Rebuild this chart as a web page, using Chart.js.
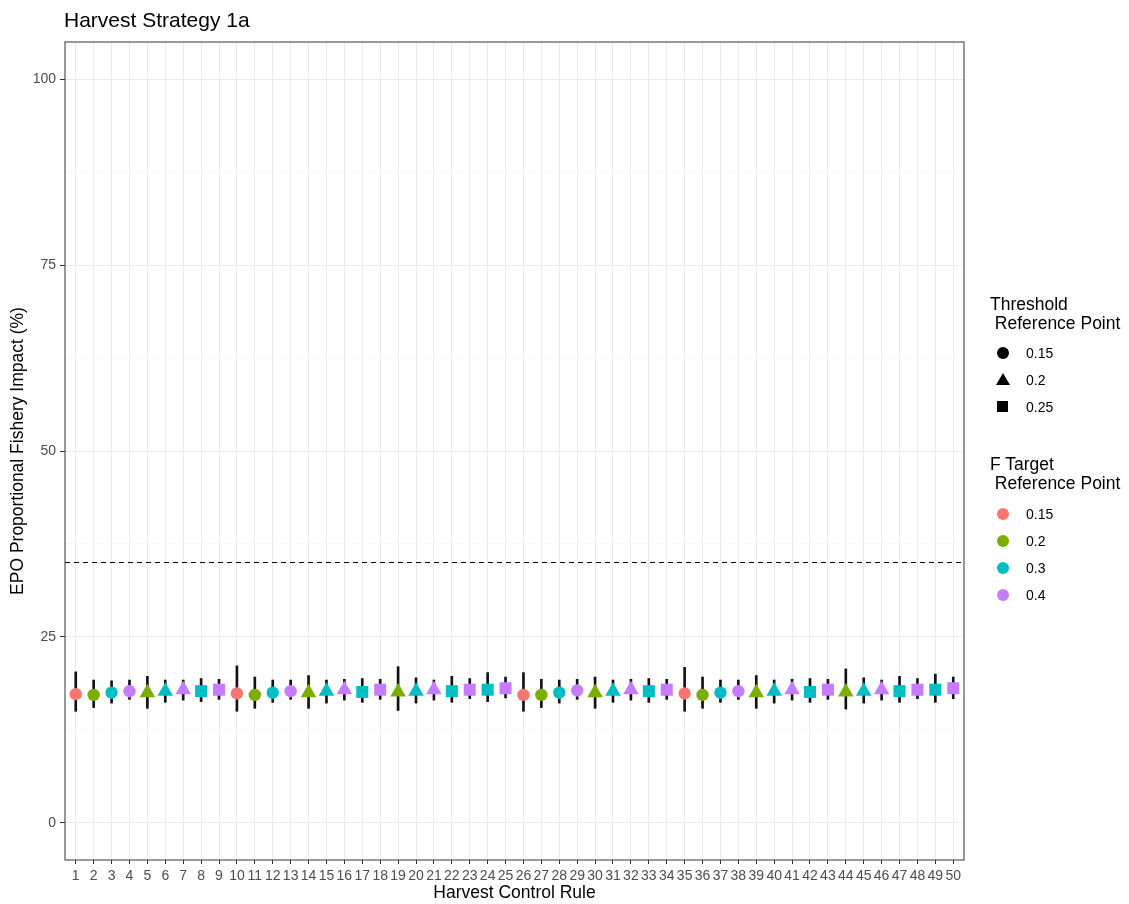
<!DOCTYPE html>
<html>
<head>
<meta charset="utf-8">
<title>Harvest Strategy 1a</title>
<script src="https://cdn.jsdelivr.net/npm/chart.js@4"></script>
<style>
  html, body { margin: 0; padding: 0; background: #fff; }
  #wrap { position: relative; width: 1129px; height: 904px; font-family: "Liberation Sans", Arial, sans-serif; }
  #plot { position: absolute; left: 0; top: 0; }
  .txt { position: absolute; white-space: pre; color: #000; }
  .ttl { font-size: 21px; line-height: 24px; }
  .lt { font-size: 17.5px; line-height: 19px; }
  .ll { font-size: 14px; line-height: 16px; }
  .key { position: absolute; }
  .k-circle { width: 12px; height: 12px; border-radius: 50%; }
  .k-square { width: 11px; height: 11px; background: #000; }
  .k-tri { width: 0; height: 0; border-left: 7px solid transparent; border-right: 7px solid transparent; border-bottom: 12px solid #000; }
</style>
</head>
<body>
<div id="wrap">
  <canvas id="plot" width="1129" height="904"></canvas>
  <div class="txt ttl" style="left:64px;top:8px;">Harvest Strategy 1a</div>
  <div id="legend"></div>
</div>
<script>
(function () {
  "use strict";

  /* ── Data ── */
  const hcr = [1, 2, 3, 4, 5, 6, 7, 8, 9, 10, 11, 12, 13, 14, 15, 16, 17, 18, 19, 20, 21, 22, 23, 24, 25,
               26, 27, 28, 29, 30, 31, 32, 33, 34, 35, 36, 37, 38, 39, 40, 41, 42, 43, 44, 45, 46, 47, 48, 49, 50];
  const threshold = [0.15, 0.15, 0.15, 0.15, 0.2, 0.2, 0.2, 0.25, 0.25,
                     0.15, 0.15, 0.15, 0.15, 0.2, 0.2, 0.2, 0.25, 0.25,
                     0.2, 0.2, 0.2, 0.25, 0.25, 0.25, 0.25,
                     0.15, 0.15, 0.15, 0.15, 0.2, 0.2, 0.2, 0.25, 0.25,
                     0.15, 0.15, 0.15, 0.15, 0.2, 0.2, 0.2, 0.25, 0.25,
                     0.2, 0.2, 0.2, 0.25, 0.25, 0.25, 0.25];
  const fTarget = [0.15, 0.2, 0.3, 0.4, 0.2, 0.3, 0.4, 0.3, 0.4,
                   0.15, 0.2, 0.3, 0.4, 0.2, 0.3, 0.4, 0.3, 0.4,
                   0.2, 0.3, 0.4, 0.3, 0.4, 0.3, 0.4,
                   0.15, 0.2, 0.3, 0.4, 0.2, 0.3, 0.4, 0.3, 0.4,
                   0.15, 0.2, 0.3, 0.4, 0.2, 0.3, 0.4, 0.3, 0.4,
                   0.2, 0.3, 0.4, 0.3, 0.4, 0.3, 0.4];
  const impact = [17.3, 17.2, 17.5, 17.7, 17.5, 17.7, 17.9, 17.7, 17.9,
                  17.4, 17.2, 17.5, 17.7, 17.5, 17.7, 17.9, 17.6, 17.9,
                  17.6, 17.7, 17.9, 17.7, 17.9, 17.9, 18.1,
                  17.2, 17.2, 17.5, 17.8, 17.5, 17.7, 17.9, 17.7, 17.9,
                  17.4, 17.2, 17.5, 17.7, 17.5, 17.7, 17.9, 17.6, 17.9,
                  17.6, 17.7, 17.9, 17.7, 17.9, 17.9, 18.1];
  const lower = [15.0, 15.5, 16.1, 16.6, 15.4, 16.2, 16.5, 16.3, 16.6,
                 15.0, 15.4, 16.2, 16.6, 15.4, 16.1, 16.5, 16.2, 16.6,
                 15.1, 16.1, 16.5, 16.2, 16.7, 16.3, 16.8,
                 15.0, 15.5, 16.1, 16.6, 15.4, 16.2, 16.5, 16.2, 16.6,
                 15.0, 15.4, 16.2, 16.6, 15.4, 16.1, 16.5, 16.2, 16.6,
                 15.3, 16.1, 16.5, 16.2, 16.7, 16.2, 16.7];
  const upper = [20.3, 19.2, 19.1, 19.2, 19.7, 19.2, 19.2, 19.4, 19.3,
                 21.1, 19.6, 19.2, 19.2, 19.8, 19.2, 19.3, 19.4, 19.3,
                 21.0, 19.5, 19.2, 19.7, 19.4, 20.2, 19.6,
                 20.2, 19.3, 19.2, 19.3, 19.6, 19.2, 19.3, 19.4, 19.3,
                 20.9, 19.6, 19.2, 19.2, 19.8, 19.2, 19.3, 19.4, 19.3,
                 20.7, 19.5, 19.2, 19.7, 19.4, 20.0, 19.6];
  const limitRef = 35;
  const yTicks = [0, 25, 50, 75, 100];
  const yMinor = [12.5, 37.5, 62.5, 87.5];
  const thresholdLevels = [0.15, 0.2, 0.25];
  const fLevels = [0.15, 0.2, 0.3, 0.4];
  const xMin = 0.4, xMax = 50.6, yMin = -5, yMax = 105;

  /* ── Styles ── */
  const FONT = '"Liberation Sans", Arial, sans-serif';
  const fColors = ['#F8766D', '#7CAE00', '#00BFC4', '#C77CFF'];
  const shapes = ['circle', 'triangle', 'rect'];
  const radiusFor = { circle: 6.2, triangle: 9, rect: 8.5 };
  const shapeOf = t => shapes[thresholdLevels.indexOf(t)];

  /* ── Datasets ── */
  const pointSets = fLevels.map((f, k) => {
    const pts = [];
    hcr.forEach((h, i) => {
      if (fTarget[i] === f) pts.push({ x: h, y: impact[i], shape: shapeOf(threshold[i]) });
    });
    return {
      type: 'scatter', label: 'F ' + f, data: pts, order: 0,
      backgroundColor: fColors[k], borderWidth: 0,
      pointStyle: c => (c.raw ? c.raw.shape : 'circle'),
      pointRadius: c => (c.raw ? radiusFor[c.raw.shape] : 6),
      pointHoverRadius: c => (c.raw ? radiusFor[c.raw.shape] : 6)
    };
  });

  const errorBars = {
    type: 'bar', label: 'range', order: 1, grouped: false,
    data: hcr.map((h, i) => ({ x: h, y: [lower[i], upper[i]] })),
    backgroundColor: '#111', borderWidth: 0, barThickness: 2
  };

  const refLine = {
    type: 'line', label: 'limit', order: 2,
    data: [{ x: xMin, y: limitRef }, { x: xMax, y: limitRef }],
    borderColor: '#000', borderWidth: 1, borderDash: [5, 4], pointRadius: 0, fill: false
  };

  /* ── Panel border ── */
  const panelBorder = {
    id: 'panelBorder',
    afterDraw(chart) {
      const { ctx, chartArea: a } = chart;
      ctx.save();
      ctx.strokeStyle = '#333';
      ctx.lineWidth = 1;
      ctx.strokeRect(a.left, a.top, a.right - a.left, a.bottom - a.top);
      ctx.restore();
    }
  };

  const isMajor = v => yTicks.includes(v);

  new Chart(document.getElementById('plot'), {
    type: 'scatter',
    data: { datasets: [...pointSets, errorBars, refLine] },
    plugins: [panelBorder],
    options: {
      responsive: false, animation: false, devicePixelRatio: 1,
      layout: { padding: { top: 42, right: 165, bottom: 0, left: 0 } },
      plugins: { legend: { display: false }, tooltip: { enabled: false } },
      scales: {
        x: {
          type: 'linear', min: xMin, max: xMax, offset: false,
          afterBuildTicks: s => { s.ticks = hcr.map(v => ({ value: v })); },
          afterFit: s => { s.height = 44; },
          grid: { color: '#EBEBEB', lineWidth: 1, tickColor: '#333', tickLength: 4, offset: false },
          border: { display: false },
          ticks: { autoSkip: false, maxRotation: 0, minRotation: 0, color: '#4D4D4D', padding: 4,
                   font: { size: 14, family: FONT } },
          title: { display: true, text: 'Harvest Control Rule', color: '#000',
                   font: { size: 17.5, family: FONT }, padding: { top: 0, bottom: 0 } }
        },
        y: {
          type: 'linear', min: yMin, max: yMax,
          afterBuildTicks: s => {
            s.ticks = [...yTicks, ...yMinor].sort((a, b) => a - b).map(v => ({ value: v }));
          },
          afterFit: s => { s.width = 65; },
          grid: {
            color: c => (isMajor(c.tick.value) ? '#EBEBEB' : '#F3F3F3'),
            lineWidth: c => (isMajor(c.tick.value) ? 1 : 0.6),
            tickColor: c => (isMajor(c.tick.value) ? '#333' : 'rgba(0,0,0,0)'),
            tickLength: 5
          },
          border: { display: false },
          ticks: { color: '#4D4D4D', padding: 4, font: { size: 14, family: FONT },
                   callback: v => (isMajor(v) ? String(v) : '') },
          title: { display: true, text: 'EPO Proportional Fishery Impact (%)', color: '#000',
                   font: { size: 17.5, family: FONT }, padding: { top: 8, bottom: 0 } }
        }
      }
    }
  });

  /* ── Legend ── */
  const lg = document.getElementById('legend');
  let html = '';
  html += '<div class="txt lt" style="left:990px;top:295px;">Threshold\n Reference Point</div>';
  const shapeY = [353, 380, 407];
  thresholdLevels.forEach((t, i) => {
    const y = shapeY[i];
    const s = shapes[i];
    if (s === 'circle') html += `<div class="key k-circle" style="background:#000;left:997px;top:${y - 6}px;"></div>`;
    if (s === 'triangle') html += `<div class="key k-tri" style="left:996px;top:${y - 7}px;"></div>`;
    if (s === 'rect') html += `<div class="key k-square" style="left:997px;top:${y - 6}px;"></div>`;
    html += `<div class="txt ll" style="left:1026px;top:${y - 8}px;">${t}</div>`;
  });
  html += '<div class="txt lt" style="left:990px;top:455px;">F Target\n Reference Point</div>';
  const colY = [514, 541, 568, 595];
  fLevels.forEach((f, i) => {
    const y = colY[i];
    html += `<div class="key k-circle" style="background:${fColors[i]};left:997px;top:${y - 6}px;"></div>`;
    html += `<div class="txt ll" style="left:1026px;top:${y - 8}px;">${f}</div>`;
  });
  lg.innerHTML = html;
})();
</script>
</body>
</html>
